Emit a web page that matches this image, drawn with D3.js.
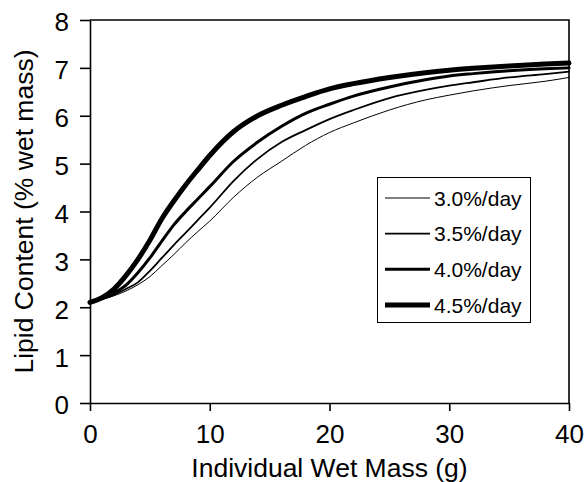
<!DOCTYPE html>
<html>
<head>
<meta charset="utf-8">
<script src="https://cdn.jsdelivr.net/npm/d3@7"></script>
<style>
  html, body { margin: 0; padding: 0; background: #fff; }
  svg { display: block; }
  text { font-family: "Liberation Sans", Arial, Helvetica, sans-serif; fill: #000; }
</style>
</head>
<body>
<svg id="chart" width="586" height="482"></svg>
<script>
// ---- data ----
const massX = [0, 1, 2, 3, 4, 5, 6, 7, 8, 9, 10, 12, 14, 16, 18, 20, 22, 25, 28, 30, 32, 35, 38, 40];
const rate30 = [2.10, 2.16, 2.24, 2.34, 2.47, 2.64, 2.87, 3.10, 3.35, 3.58, 3.80, 4.30, 4.72, 5.05, 5.38, 5.65, 5.85, 6.12, 6.33, 6.43, 6.52, 6.63, 6.72, 6.80];
const rate35 = [2.10, 2.17, 2.26, 2.38, 2.52, 2.76, 3.03, 3.30, 3.56, 3.82, 4.08, 4.64, 5.10, 5.45, 5.70, 5.93, 6.12, 6.37, 6.54, 6.63, 6.70, 6.80, 6.87, 6.92];
const rate40 = [2.10, 2.18, 2.30, 2.46, 2.72, 3.03, 3.38, 3.72, 4.00, 4.26, 4.52, 5.05, 5.45, 5.78, 6.05, 6.24, 6.41, 6.60, 6.75, 6.83, 6.88, 6.94, 6.98, 7.00];
const rate45 = [2.10, 2.20, 2.38, 2.66, 3.00, 3.40, 3.85, 4.22, 4.56, 4.87, 5.17, 5.67, 6.00, 6.22, 6.40, 6.56, 6.67, 6.80, 6.90, 6.95, 6.99, 7.04, 7.08, 7.10];
const seriesNames = ["3.0%/day", "3.5%/day", "4.0%/day", "4.5%/day"];
const seriesValues = [rate30, rate35, rate40, rate45];
const xTicks = [0, 10, 20, 30, 40];
const yTicks = [0, 1, 2, 3, 4, 5, 6, 7, 8];
const xTitle = "Individual Wet Mass (g)";
const yTitle = "Lipid Content (% wet mass)";

// ---- layout ----
const mLeft = 90, mRight = 569, mTop = 20, mBottom = 403;
const widths = [1, 1.8, 3, 5];

const svg = d3.select("#chart");
const x = d3.scaleLinear().domain([0, 40]).range([mLeft, mRight]);
const y = d3.scaleLinear().domain([0, 8]).range([mBottom, mTop]);

// frame (top & right)
svg.append("path")
  .attr("d", `M${mLeft},${mTop}H${mRight}V${mBottom}`)
  .attr("fill", "none").attr("stroke", "#000").attr("stroke-width", 1.6);

// x axis
const gx = svg.append("g").attr("transform", `translate(0,${mBottom})`)
  .call(d3.axisBottom(x).tickValues(xTicks).tickSize(8).tickSizeOuter(0).tickFormat(d3.format("d")));
gx.select(".domain").attr("stroke-width", 1.6);
gx.selectAll(".tick line").attr("stroke-width", 1.6);
gx.selectAll(".tick text").attr("y", 40).attr("dy", 0).attr("font-size", 26);

// y axis
const gy = svg.append("g").attr("transform", `translate(${mLeft},0)`)
  .call(d3.axisLeft(y).tickValues(yTicks).tickSize(10).tickSizeOuter(0).tickFormat(d3.format("d")));
gy.select(".domain").attr("stroke-width", 1.6);
gy.selectAll(".tick line").attr("stroke-width", 1.6);
gy.selectAll(".tick text").attr("x", -21).attr("dy", "0.42em").attr("font-size", 26);

// titles
svg.append("text").attr("x", (mLeft + mRight) / 2).attr("y", 477)
  .attr("text-anchor", "middle").attr("font-size", 26.5).text(xTitle);
svg.append("text").attr("transform", `translate(33,${(mTop + mBottom) / 2}) rotate(-90)`)
  .attr("text-anchor", "middle").attr("font-size", 26.5).text(yTitle);

// lines
const line = d3.line().x((d, i) => x(massX[i])).y(d => y(d)).curve(d3.curveMonotoneX);
seriesValues.forEach((vals, k) => {
  svg.append("path").datum(vals)
    .attr("d", line)
    .attr("fill", "none").attr("stroke", "#000")
    .attr("stroke-width", widths[k])
    .attr("stroke-linejoin", "round").attr("stroke-linecap", "round");
});

// legend
const lg = svg.append("g");
lg.append("rect").attr("x", 377.5).attr("y", 177.5).attr("width", 153).attr("height", 145)
  .attr("fill", "#fff").attr("stroke", "#000").attr("stroke-width", 1);
const rowY = d3.scalePoint().domain(seriesNames).range([198, 305]);
seriesNames.forEach((name, k) => {
  const yy = rowY(name);
  lg.append("line").attr("x1", 385).attr("x2", 430).attr("y1", yy).attr("y2", yy)
    .attr("stroke", "#000").attr("stroke-width", widths[k]);
  lg.append("text").attr("x", 434).attr("y", yy + 7.5).attr("font-size", 21).text(name);
});
</script>
</body>
</html>
